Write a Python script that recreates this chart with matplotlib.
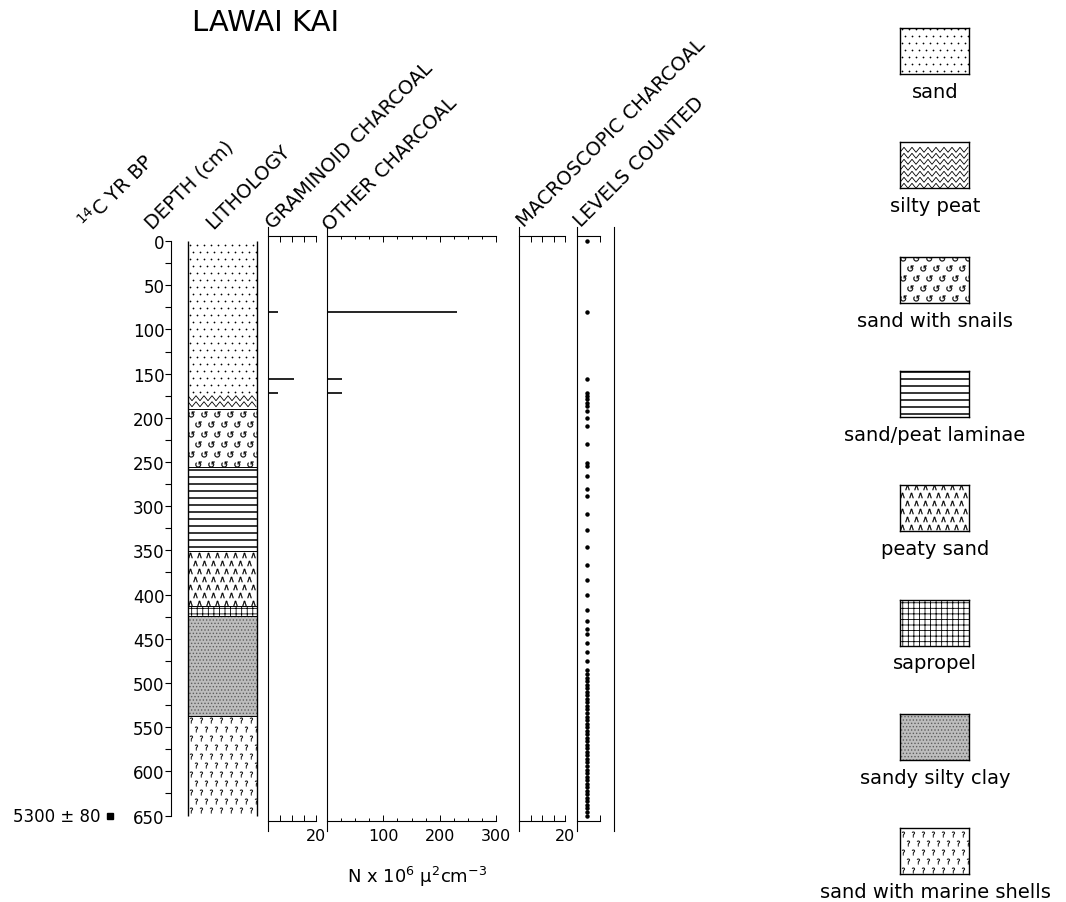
import numpy as np
import matplotlib.pyplot as plt
from matplotlib.patches import Rectangle

plt.rcParams['font.family'] = 'DejaVu Sans'
plt.rcParams['hatch.linewidth'] = 0.6

W, H = 1066, 903

# sediment units (cm)
litho_names = ["sand", "silty peat", "sand with snails", "sand/peat laminae",
               "peaty sand", "sapropel", "sandy silty clay", "sand with marine shells"]
litho_top = [0, 175, 190, 256, 351, 413, 424, 537]
litho_bottom = [175, 190, 256, 351, 413, 424, 537, 650]

depth_ticks = [0, 50, 100, 150, 200, 250, 300, 350, 400, 450, 500, 550, 600, 650]
depth_minor = [25, 75, 125, 175, 225, 275, 325, 375, 425, 475, 525, 575, 625]

# charcoal, N x 10^6 um2 cm-3
charcoal_depth = [80, 156, 172]
graminoid = [4, 11, 4]
other_charcoal = [231, 26, 26]
macroscopic = [0, 0, 0]

levels_counted = [0, 80, 156, 172, 175, 179, 183, 187, 192, 200, 209, 230, 251, 255,
                  266, 280, 289, 309, 327, 346, 367, 384, 401, 418, 430, 439, 445,
                  455, 465, 475, 485, 490, 494, 498, 502, 506, 510, 514, 518, 522,
                  526, 530, 534, 538, 542, 546, 550, 554, 558, 562, 566, 570, 574,
                  578, 582, 586, 590, 594, 598, 602, 606, 610, 614, 618, 622, 626,
                  630, 634, 638, 642, 646, 650]

date_depth = 650
date_label = "5300 ± 80"

headers = ["$^{14}$C YR BP", "DEPTH (cm)", "LITHOLOGY", "GRAMINOID CHARCOAL",
           "OTHER CHARCOAL", "MACROSCOPIC CHARCOAL", "LEVELS COUNTED"]

small_ticks = [0, 5, 10, 15, 20]
small_labels = ["", "", "", "", "20"]
other_ticks = [0, 100, 200, 300]
other_labels = ["", "100", "200", "300"]
other_minor = [25, 50, 75, 125, 150, 175, 225, 250, 275]

YLIM = (656.2, -5.7)      # depth at the bottom / top axis lines
LINE_SPAN = (-16, 667.5)  # vertical panel lines run a bit past the axes

fig = plt.figure(figsize=(W / 100, H / 100), dpi=100)


def px_axes(x0, w, top=237, bottom=822):
    return fig.add_axes([x0 / W, 1 - bottom / H, w / W, (bottom - top) / H])


def units_per_px(ax):
    pos = ax.get_position()
    x0, x1 = ax.get_xlim()
    y0, y1 = ax.get_ylim()
    return abs(x1 - x0) / (pos.width * W), abs(y1 - y0) / (pos.height * H)


def grid(ax, x0, x1, y0, y1, dx, dy):
    # staggered grid of symbol positions, spacing given in pixels
    ux, uy = units_per_px(ax)
    pts = []
    y = min(y0, y1) + dy * uy / 2
    row = 0
    while y < max(y0, y1):
        x = x0 + dx * ux / 4 + (dx * ux / 2 if row % 2 else 0)
        while x < x1:
            pts.append((x, y))
            x += dx * ux
        y += dy * uy
        row += 1
    return np.array(pts)


def fill_unit(ax, name, x0, x1, y0, y1):
    ylo, yhi = min(y0, y1), max(y0, y1)
    ux, uy = units_per_px(ax)
    box = dict(xy=(x0, ylo), width=x1 - x0, height=yhi - ylo, linewidth=0)
    if name == "sand":
        p = grid(ax, x0, x1, y0, y1, 7, 7)
        ax.scatter(p[:, 0], p[:, 1], s=1.6, c='k', linewidths=0)
    elif name == "silty peat":
        xs = np.arange(x0, x1 + ux, 4 * ux)
        for r in np.arange(ylo, yhi - 4 * uy, 6 * uy):
            ax.plot(xs, r + 5 * uy * (np.arange(len(xs)) % 2), color='k', lw=0.6)
    elif name == "sand with snails":
        p = grid(ax, x0, x1, y0, y1, 13, 10)
        ax.scatter(p[:, 0], p[:, 1], s=20, c='k', marker=r'$\circlearrowleft$', linewidths=0.2)
    elif name == "sand/peat laminae":
        ax.hlines(np.arange(ylo + 3 * uy, yhi, 7 * uy), x0, x1, color='k', lw=1.1)
    elif name == "peaty sand":
        p = grid(ax, x0, x1, y0, y1, 9, 8)
        ax.scatter(p[:, 0], p[:, 1], s=14, c='k', marker=r'$\wedge$', linewidths=0.2)
    elif name == "sapropel":
        ax.add_patch(Rectangle(**box, facecolor='white', edgecolor='k', hatch='+++'))
    elif name == "sandy silty clay":
        ax.add_patch(Rectangle(**box, facecolor='#bdbdbd', edgecolor='#5e5e5e', hatch='.....'))
    else:
        p = grid(ax, x0, x1, y0, y1, 10, 9)
        ax.scatter(p[:, 0], p[:, 1], s=16, c='k', marker='$?$', linewidths=0.2)


# ---- lithology column with depth scale ----
ax_l = px_axes(188, 69)
ax_l.set_xlim(0, 1)
ax_l.set_ylim(*YLIM)
for name, t, b in zip(litho_names, litho_top, litho_bottom):
    fill_unit(ax_l, name, 0, 1, t, b)
ax_l.hlines(litho_top[2:], 0, 1, color='k', lw=0.7)
ax_l.vlines([0, 1], 0, 650, color='k', lw=1.0, clip_on=False)
for s in ['top', 'bottom', 'right']:
    ax_l.spines[s].set_visible(False)
ax_l.spines['left'].set_position(('outward', 12))
ax_l.spines['left'].set_bounds(0, 650)
ax_l.set_xticks([])
ax_l.set_yticks(depth_ticks)
ax_l.set_yticks(depth_minor, minor=True)
ax_l.tick_params(axis='y', which='both', direction='out', length=4, width=0.8,
                 labelsize=12, pad=1)
ax_l.patch.set_visible(False)

ytr = ax_l.get_yaxis_transform()
ax_l.plot(-1.13, date_depth, 's', ms=4, color='k', transform=ytr, clip_on=False)
ax_l.text(-1.27, date_depth, date_label, ha='right', va='center', fontsize=12,
          transform=ytr)


def charcoal_panel(x0, w, xmax, ticks, labels, minor=None):
    ax = px_axes(x0, w)
    ax.set_xlim(0, xmax)
    ax.set_ylim(*YLIM)
    ax.spines['right'].set_visible(False)
    ax.spines['left'].set_bounds(*LINE_SPAN)
    ax.set_yticks([])
    ax.set_xticks(ticks)
    ax.set_xticklabels(labels)
    if minor:
        ax.set_xticks(minor, minor=True)
    ax.tick_params(axis='x', which='both', direction='in', top=True, bottom=True,
                   labelsize=11.5, pad=5, length=4, width=0.7)
    ax.tick_params(axis='x', which='minor', length=2.5)
    ax.patch.set_visible(False)
    return ax


ax_g = charcoal_panel(268, 48, 20, small_ticks, small_labels)
ax_g.hlines(charcoal_depth, 0, graminoid, color='k', lw=1.2)

ax_o = charcoal_panel(327, 169, 300, other_ticks, other_labels, other_minor)
ax_o.hlines(charcoal_depth, 0, other_charcoal, color='k', lw=1.2)

ax_m = charcoal_panel(519, 46, 20, small_ticks, small_labels)
ax_m.hlines(charcoal_depth, 0, macroscopic, color='k', lw=1.2)

# ---- levels counted ----
ax_c = px_axes(577, 23)
ax_c.set_xlim(0, 1)
ax_c.set_ylim(*YLIM)
ax_c.spines['left'].set_bounds(*LINE_SPAN)
ax_c.spines['right'].set_position(('outward', 10))
ax_c.spines['right'].set_bounds(*LINE_SPAN)
ax_c.set_yticks([])
ax_c.set_xticks([1])
ax_c.set_xticklabels([])
ax_c.tick_params(axis='x', direction='in', top=True, bottom=True, length=4, width=0.7)
ax_c.plot([0.43] * len(levels_counted), levels_counted, 'o', ls='none', ms=2.2, color='k')
ax_c.patch.set_visible(False)

# ---- texts ----
fig.text(266 / W, 1 - 23 / H, "LAWAI KAI", ha='center', va='center', fontsize=21)
hdr_x = [87, 152, 213, 273, 330, 524, 581]
hdr_y = [230, 230, 230, 230, 232, 228, 228]
for lab, hx, hy in zip(headers, hdr_x, hdr_y):
    fig.text(hx / W, 1 - hy / H, lab, rotation=45, rotation_mode='anchor',
             ha='left', va='baseline', fontsize=14)
fig.text(417 / W, 1 - 877 / H, "N x 10$^{6}$ μ$^{2}$cm$^{-3}$", ha='center',
         va='center', fontsize=13)

# ---- legend ----
for i, name in enumerate(litho_names):
    top = 29 + i * 114.3
    lax = fig.add_axes([900 / W, 1 - (top + 46) / H, 69 / W, 46 / H])
    lax.set_xlim(0, 1)
    lax.set_ylim(0, 1)
    fill_unit(lax, name, 0, 1, 0, 1)
    lax.set_xticks([])
    lax.set_yticks([])
    for s in lax.spines.values():
        s.set_linewidth(1.0)
    fig.text(935 / W, 1 - (top + 54) / H, name, ha='center', va='top', fontsize=14)

fig.savefig("out.png", dpi=100)
